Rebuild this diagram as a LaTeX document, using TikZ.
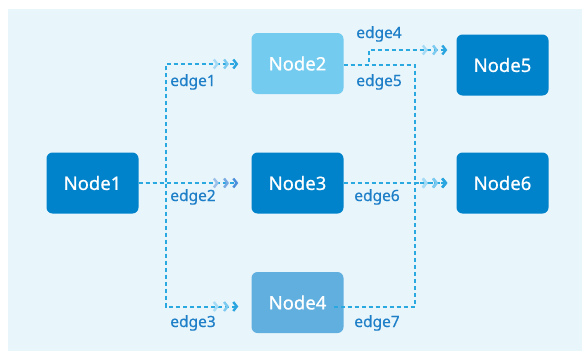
\documentclass[tikz,border=0pt]{standalone}
\usepackage{fontspec}
\setmainfont{Noto Sans}
\newfontfamily\boxfont[FakeBold=0.6]{Noto Sans}
\newfontfamily\tagfont[FakeBold=0.4]{Noto Sans}
\usetikzlibrary{arrows.meta}

\definecolor{panel}{HTML}{E8F5FB}
\definecolor{deep}{HTML}{0083CB}
\definecolor{pale}{HTML}{73CBEF}
\definecolor{mid}{HTML}{60AFDF}
\definecolor{wire}{HTML}{2AA9E0}
\definecolor{labelblue}{HTML}{1E7FC8}
\definecolor{chevA}{HTML}{A5DBF5}
\definecolor{chevB}{HTML}{7CCAF0}
\definecolor{chevC}{HTML}{2AA5E0}
\definecolor{chevD}{HTML}{9CC0E8}
\definecolor{chevE}{HTML}{78A9E2}
\definecolor{chevF}{HTML}{4D8FDA}

\tikzset{
  box/.style={rectangle, rounded corners=6pt, minimum width=92pt, minimum height=61pt,
    inner sep=0pt, text=white, font=\boxfont\fontsize{18.5}{20}\selectfont},
  lbl/.style={text=labelblue, font=\tagfont\fontsize{15.5}{17}\selectfont, inner sep=0pt},
  flow/.style={draw=wire, line width=2pt, dash pattern=on 4pt off 3pt},
  chevrons/.style={-{Straight Barb[length=3.5pt,width=9pt,line width=2.4pt,color=chevA,sep=4pt]
                     Straight Barb[length=3.5pt,width=9pt,line width=2.4pt,color=chevB,sep=3pt]
                     Straight Barb[length=3.5pt,width=9pt,line width=2.4pt,color=chevC,sep=3pt]}},
  chevronsalt/.style={-{Straight Barb[length=3.5pt,width=9pt,line width=2.4pt,color=chevD,sep=4pt]
                     Straight Barb[length=3.5pt,width=9pt,line width=2.4pt,color=chevE,sep=3pt]
                     Straight Barb[length=3.5pt,width=9pt,line width=2.4pt,color=chevF,sep=3pt]}}
}

\begin{document}
\begin{tikzpicture}[x=1pt, y=-1pt]
  \useasboundingbox (0,0) rectangle (582,351);
  \fill[panel] (8,9) rectangle (582,351);

  % nodes
  \node[box, fill=deep] (n1) at (92.5,183)   {Node1};
  \node[box, fill=pale] (n2) at (297.5,63.5) {Node2};
  \node[box, fill=deep] (n3) at (297.5,183)  {Node3};
  \node[box, fill=mid]  (n4) at (297.5,302.5){Node4};
  \node[box, fill=deep] (n5) at (502.5,65)   {Node5};
  \node[box, fill=deep] (n6) at (502.5,183)  {Node6};

  % junction points of the routed connectors
  \coordinate (split) at (166,183);
  \coordinate (up5)   at (369,65);
  \coordinate (merge) at (415,65);

  % connectors out of Node1
  \draw[flow, chevrons]    (n1.east) -- (split) |- ([xshift=-10pt,yshift=-0.5pt]n2.west);
  \draw[flow, chevronsalt] (n1.east) -- ([xshift=-10pt]n3.west);
  \draw[flow, chevrons]    (n1.east) -- (split) |- ([xshift=-10pt,yshift=-4pt]n4.west);

  % connectors into Node5 and Node6
  \draw[flow, chevrons] ([yshift=-1.5pt]n2.east) -- (up5) |- ([xshift=-6pt,yshift=15pt]n5.west);
  \draw[flow, chevrons] ([yshift=-1.5pt]n2.east) -- (merge) |- ([xshift=-6pt]n6.west);
  \draw[flow, chevrons] (n3.east) -- ([xshift=-6pt]n6.west);
  \draw[flow, chevrons] ([xshift=-10pt,yshift=-4pt]n4.east) -| (merge |- n6.west) -- ([xshift=-6pt]n6.west);

  % edge labels
  \node[lbl] (l1) at (193,82)  {edge1};
  \node[lbl] (l2) at (193,197) {edge2};
  \node[lbl] (l3) at (193,323) {edge3};
  \node[lbl] (l4) at (379,34)  {edge4};
  \node[lbl] (l5) at (379,82)  {edge5};
  \node[lbl] (l6) at (377,197) {edge6};
  \node[lbl] (l7) at (377,323) {edge7};
\end{tikzpicture}
\end{document}
